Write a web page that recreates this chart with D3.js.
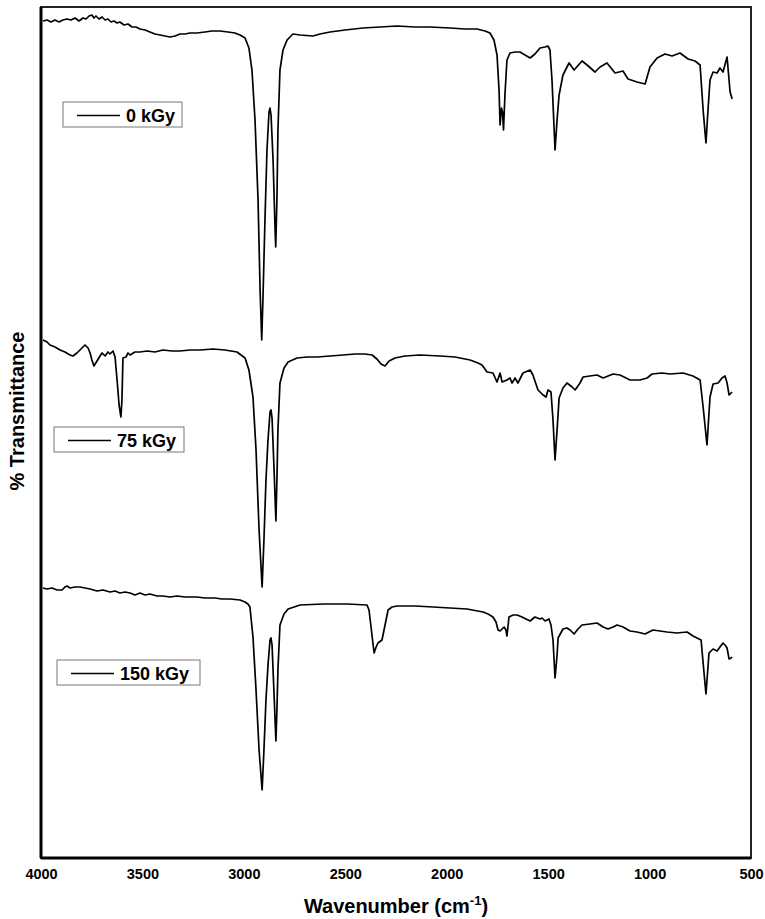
<!DOCTYPE html>
<html>
<head>
<meta charset="utf-8">
<script src="https://cdn.jsdelivr.net/npm/d3@7"></script>
<style>
  body { margin: 0; background: #fff; }
  svg { display: block; font-family: "Liberation Sans", Arial, sans-serif; }
</style>
</head>
<body>
<div id="chart"></div>
<script>
// FTIR spectra, [wavenumber cm-1, offset transmittance (a.u.)]
const kGy0 = [
  [3990,837],[3970,838],[3951,836],[3931,838],[3911,836],[3892,838],[3872,839],[3852,838],
  [3832,840],[3813,837],[3793,840],[3778,839],[3763,842],[3749,843],[3739,840],[3729,842],
  [3714,839],[3699,841],[3684,838],[3670,839],[3655,836],[3640,837],[3625,835],[3611,836],
  [3591,833],[3571,834],[3551,831],[3532,831],[3512,829],[3487,828],[3463,826],[3438,824],
  [3413,823],[3389,822],[3364,821],[3339,822],[3315,824],[3290,824],[3266,825],[3231,825],
  [3192,826],[3157,827],[3118,827],[3078,826],[3044,825],[3019,823],[2994,820],[2975,810],
  [2960,788],[2945,738],[2930,658],[2920,568],[2912,518],[2906,558],[2896,638],[2886,708],
  [2876,746],[2871,750],[2866,743],[2856,698],[2846,628],[2843,611],[2837,658],[2832,728],
  [2822,788],[2807,808],[2787,818],[2758,824],[2723,823],[2659,822],[2625,824],[2575,826],
  [2501,828],[2413,830],[2329,831],[2245,832],[2156,831],[2082,831],[1984,830],[1910,829],
  [1851,829],[1811,827],[1787,825],[1767,818],[1752,803],[1742,768],[1737,733],[1730,750],
  [1725,746],[1720,728],[1713,763],[1703,798],[1688,805],[1663,806],[1639,806],[1614,803],
  [1589,800],[1565,804],[1540,810],[1515,811],[1501,812],[1491,808],[1481,778],[1466,708],
  [1456,738],[1446,763],[1427,783],[1397,795],[1372,788],[1333,797],[1308,793],[1269,786],
  [1244,791],[1210,795],[1170,785],[1131,787],[1106,779],[1062,776],[1022,774],[998,791],
  [963,800],[924,804],[889,802],[850,805],[810,799],[776,797],[751,793],[736,748],
  [722,715],[712,748],[702,778],[687,786],[667,785],[653,790],[638,786],[618,801],
  [603,766],[593,759]
];

const kGy75 = [
  [3990,518],[3970,516],[3956,513],[3931,511],[3906,508],[3882,506],[3857,503],[3842,502],
  [3823,505],[3808,508],[3783,513],[3768,510],[3758,505],[3749,498],[3739,492],[3724,497],
  [3709,502],[3699,505],[3684,502],[3670,506],[3660,504],[3645,507],[3635,501],[3625,478],
  [3615,453],[3606,441],[3601,458],[3596,500],[3581,501],[3571,505],[3561,503],[3537,506],
  [3512,506],[3477,507],[3438,506],[3399,508],[3354,507],[3315,507],[3265,508],[3216,508],
  [3152,509],[3093,508],[3034,506],[2994,500],[2975,488],[2955,461],[2940,408],[2925,328],
  [2910,271],[2901,318],[2891,378],[2881,418],[2871,446],[2866,448],[2861,440],[2851,388],
  [2842,337],[2837,378],[2832,428],[2822,475],[2802,490],[2782,496],[2738,500],[2689,501],
  [2639,501],[2575,502],[2511,503],[2452,504],[2403,504],[2368,503],[2344,499],[2324,494],
  [2304,492],[2284,497],[2255,500],[2206,502],[2132,503],[2033,502],[1959,501],[1885,498],
  [1846,495],[1826,493],[1801,486],[1772,485],[1752,476],[1737,485],[1727,476],[1703,478],
  [1688,480],[1678,475],[1663,480],[1649,475],[1624,485],[1589,488],[1575,483],[1550,468],
  [1525,463],[1510,461],[1501,468],[1486,466],[1476,438],[1466,398],[1456,428],[1446,460],
  [1427,470],[1407,475],[1382,471],[1367,468],[1343,475],[1328,481],[1294,482],[1259,483],
  [1229,480],[1180,484],[1146,483],[1096,478],[1047,478],[1012,480],[988,484],[939,485],
  [899,484],[835,485],[786,482],[751,478],[736,451],[717,413],[702,461],[687,474],
  [662,475],[643,480],[628,482],[618,475],[608,463],[593,466]
];

const kGy150 = [
  [3990,270],[3970,269],[3946,270],[3921,268],[3896,268],[3882,271],[3872,272],[3857,270],
  [3832,271],[3808,271],[3783,270],[3758,269],[3724,267],[3694,268],[3660,266],[3635,267],
  [3611,265],[3586,266],[3561,265],[3537,263],[3512,265],[3487,263],[3463,264],[3428,262],
  [3399,262],[3364,261],[3330,262],[3290,261],[3231,261],[3192,260],[3142,260],[3108,259],
  [3068,259],[3019,258],[2994,256],[2980,254],[2970,251],[2955,221],[2940,168],[2925,108],
  [2910,68],[2901,108],[2891,158],[2881,193],[2871,218],[2866,220],[2861,213],[2851,163],
  [2842,117],[2837,148],[2832,188],[2822,233],[2802,244],[2782,249],[2723,253],[2610,254],
  [2491,254],[2393,253],[2383,248],[2373,231],[2358,205],[2348,211],[2339,215],[2319,218],
  [2304,233],[2289,248],[2270,251],[2245,252],[2156,252],[2067,251],[1984,250],[1900,249],
  [1821,246],[1796,244],[1772,241],[1757,236],[1747,228],[1737,227],[1727,229],[1717,231],
  [1708,228],[1703,222],[1693,241],[1673,243],[1653,243],[1629,241],[1589,237],[1565,241],
  [1540,239],[1530,240],[1515,237],[1496,239],[1486,233],[1476,218],[1466,180],[1456,203],
  [1451,220],[1427,229],[1407,230],[1392,228],[1372,224],[1353,229],[1333,233],[1294,234],
  [1259,235],[1229,231],[1205,229],[1180,231],[1160,233],[1131,231],[1096,227],[1062,226],
  [1022,224],[1003,226],[983,228],[949,227],[914,226],[865,225],[815,226],[786,222],
  [746,218],[736,195],[722,164],[707,205],[687,209],[667,207],[653,211],[638,215],
  [628,213],[618,210],[608,199],[598,200],[593,201]
];

const seriesLabels = ["0 kGy", "75 kGy", "150 kGy"];
const xTicks = [4000, 3500, 3000, 2500, 2000, 1500, 1000, 500];

const width = 765, height = 919;
const margin = {top: 7, right: 14, bottom: 61, left: 41};
const w = width - margin.left - margin.right;
const h = height - margin.top - margin.bottom;

const svg = d3.select("#chart").append("svg")
  .attr("width", width)
  .attr("height", height);

const g = svg.append("g")
  .attr("transform", "translate(" + margin.left + "," + margin.top + ")");

const x = d3.scaleLinear().domain([4000, 500]).range([0, w]);
const y = d3.scaleLinear().domain([0, h]).range([h, 0]);

const line = d3.line()
  .x(d => x(d[0]))
  .y(d => y(d[1]));

// spectra
[kGy0, kGy75, kGy150].forEach(s => {
  g.append("path")
    .datum(s)
    .attr("d", line)
    .attr("fill", "none")
    .attr("stroke", "#000")
    .attr("stroke-width", 1.7)
    .attr("stroke-linejoin", "round");
});

// frame
g.append("rect")
  .attr("x", 0).attr("y", 0)
  .attr("width", w).attr("height", h)
  .attr("fill", "none")
  .attr("stroke", "#222")
  .attr("stroke-width", 2);
g.append("line")
  .attr("x1", 0).attr("y1", 0).attr("x2", 0).attr("y2", h)
  .attr("stroke", "#000").attr("stroke-width", 3);
g.append("line")
  .attr("x1", 0).attr("y1", h).attr("x2", w).attr("y2", h)
  .attr("stroke", "#000").attr("stroke-width", 3);

// x axis labels
const xAxis = g.append("g")
  .attr("transform", "translate(0," + h + ")")
  .call(d3.axisBottom(x).tickValues(xTicks).tickSize(0).tickPadding(11).tickFormat(d3.format("d")));
xAxis.select(".domain").remove();
xAxis.selectAll("text")
  .style("font-size", "14.5px")
  .style("font-weight", "bold")
  .attr("fill", "#000");

// axis titles
const xt = svg.append("text")
  .attr("x", 396)
  .attr("y", 913)
  .attr("text-anchor", "middle")
  .style("font-size", "20px")
  .style("font-weight", "bold");
xt.append("tspan").text("Wavenumber (cm");
xt.append("tspan").attr("dy", -8).style("font-size", "13px").text("-1");
xt.append("tspan").attr("dy", 8).text(")");

svg.append("text")
  .attr("transform", "translate(24,411) rotate(-90)")
  .attr("text-anchor", "middle")
  .style("font-size", "20px")
  .style("font-weight", "bold")
  .text("% Transmittance");

// legends, one per spectrum
const legends = [
  {x: 63, y: 102, w: 119},
  {x: 54, y: 427, w: 130},
  {x: 57, y: 660, w: 143}
];
legends.forEach((l, i) => {
  const lg = svg.append("g").attr("transform", "translate(" + l.x + "," + l.y + ")");
  lg.append("rect")
    .attr("width", l.w).attr("height", 25)
    .attr("fill", "#fff")
    .attr("stroke", "#777")
    .attr("stroke-width", 1);
  lg.append("line")
    .attr("x1", 14).attr("x2", 57)
    .attr("y1", 13.5).attr("y2", 13.5)
    .attr("stroke", "#000").attr("stroke-width", 1.7);
  lg.append("text")
    .attr("x", 63)
    .attr("y", 20)
    .style("font-size", "18px")
    .style("font-weight", "bold")
    .text(seriesLabels[i]);
});
</script>
</body>
</html>
